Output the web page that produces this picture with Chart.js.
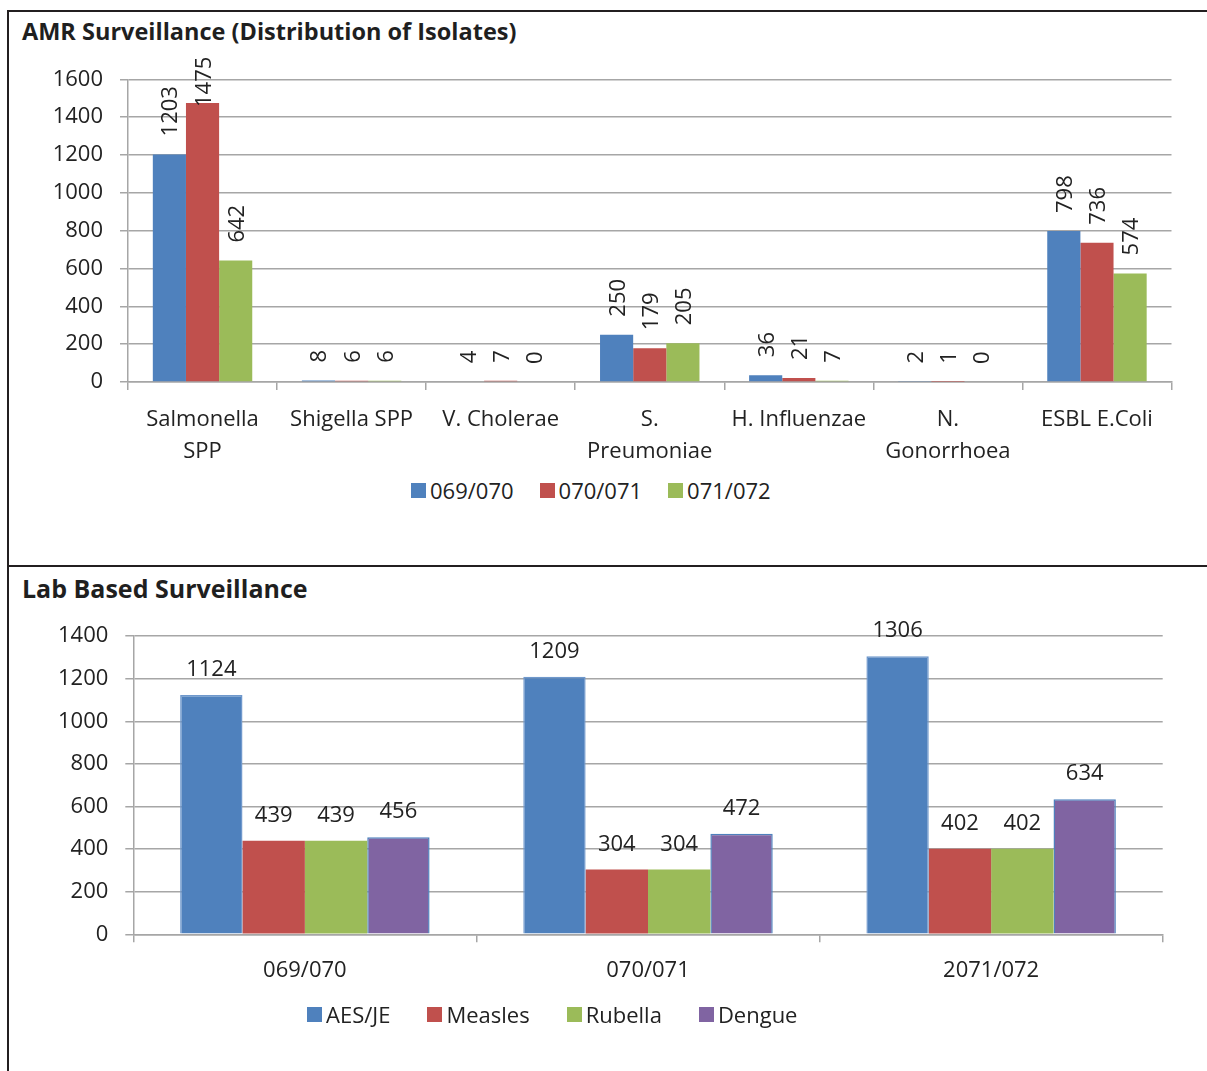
<!DOCTYPE html>
<html>
<head>
<meta charset="utf-8">
<script src="https://cdn.jsdelivr.net/npm/chart.js@4.4.1/dist/chart.umd.min.js"></script>
<style>
  html, body { margin: 0; padding: 0; background: #fff; overflow: hidden; width: 1207px; height: 1071px; }
  .box { position: absolute; left: 7px; width: 1300px; border: 2px solid #231f20; box-sizing: border-box; }
  .title { position: absolute; left: 22px; font-family: "Open Sans", sans-serif; font-weight: bold; color: #1f1f1f; white-space: nowrap; }
  canvas { position: absolute; }
  .legend { position: absolute; display: flex; align-items: center; font: 22px "Open Sans", sans-serif; color: #222; line-height: 22px; white-space: nowrap; }
  .legend span.item { display: flex; align-items: center; }
  .legend i { display: inline-block; width: 15px; height: 15px; margin-right: 4px; }
</style>
</head>
<body>
<div class="box" style="top:10px;height:557px;"></div>
<div class="box" style="top:565px;height:600px;"></div>

<div class="title" style="top:19px;font-size:23.5px;line-height:24px;">AMR Surveillance (Distribution of Isolates)</div>
<canvas id="amr" width="1197" height="458" style="left:10px;top:12px;"></canvas>
<div class="legend" id="amrLegend" style="left:411px;top:479px;gap:26px;"></div>

<div class="title" style="top:576px;font-size:25px;line-height:24px;">Lab Based Surveillance</div>
<canvas id="lab" width="1197" height="394" style="left:10px;top:606px;"></canvas>
<div class="legend" id="labLegend" style="left:307px;top:1003px;gap:37px;"></div>

<script>
// AMR surveillance
const amrCategories = [['Salmonella', 'SPP'], 'Shigella SPP', 'V. Cholerae', ['S.', 'Preumoniae'], 'H. Influenzae', ['N.', 'Gonorrhoea'], 'ESBL E.Coli'];
const amrSeries = ['069/070', '070/071', '071/072'];
const amr069 = [1203, 8, 4, 250, 36, 2, 798];
const amr070 = [1475, 6, 7, 179, 21, 1, 736];
const amr071 = [642, 6, 0, 205, 7, 0, 574];
const amrTicks = [0, 200, 400, 600, 800, 1000, 1200, 1400, 1600];

// Lab based surveillance
const labCategories = ['069/070', '070/071', '2071/072'];
const labSeries = ['AES/JE', 'Measles', 'Rubella', 'Dengue'];
const labAes = [1124, 1209, 1306];
const labMeasles = [439, 304, 402];
const labRubella = [439, 304, 402];
const labDengue = [456, 472, 634];
const labTicks = [0, 200, 400, 600, 800, 1000, 1200, 1400];

const BLUE = '#4f81bd', RED = '#c0504d', GREEN = '#9bbb59', PURPLE = '#8064a2';
const GRID = '#a6a6a6';
const TEXT = '#222';
const FONT = '"Open Sans", sans-serif';

// value labels above each bar, drawn from the bar elements
const valueLabels = {
  id: 'valueLabels',
  afterDatasetsDraw(chart, args, opts) {
    const ctx = chart.ctx;
    const top = chart.chartArea.top - opts.overhang;
    ctx.save();
    ctx.font = '22px ' + FONT;
    ctx.fillStyle = TEXT;
    chart.data.datasets.forEach((ds, i) => {
      chart.getDatasetMeta(i).data.forEach((bar, j) => {
        const text = String(ds.data[j]);
        if (opts.rotate) {
          const w = ctx.measureText(text).width;
          // keep the label inside the plot, as the spreadsheet does
          const start = Math.max(bar.y - opts.gap, top + w);
          ctx.save();
          ctx.translate(bar.x + 8, start);
          ctx.rotate(-Math.PI / 2);
          ctx.textAlign = 'left';
          ctx.textBaseline = 'alphabetic';
          ctx.fillText(text, 0, 0);
          ctx.restore();
        } else {
          ctx.textAlign = 'center';
          ctx.textBaseline = 'alphabetic';
          ctx.fillText(text, bar.x, bar.y - opts.gap);
        }
      });
    });
    ctx.restore();
  }
};

function makeLegend(id, names, colors) {
  const el = document.getElementById(id);
  names.forEach((n, i) => {
    const item = document.createElement('span');
    item.className = 'item';
    item.innerHTML = '<i style="background:' + colors[i] + '"></i>' + n;
    el.appendChild(item);
  });
}

function scales(ticks, yWidth, xHeight, xPad, lineHeight) {
  return {
    x: {
      afterFit: (s) => { s.height = xHeight; },
      grid: { drawOnChartArea: false, tickLength: 8, color: GRID, lineWidth: 1.5 },
      border: { color: GRID, width: 1.5 },
      ticks: { color: TEXT, padding: xPad, maxRotation: 0, autoSkip: false, font: { family: FONT, size: 22, lineHeight: lineHeight } }
    },
    y: {
      min: ticks[0],
      max: ticks[ticks.length - 1],
      afterFit: (s) => { s.width = yWidth; },
      afterBuildTicks: (s) => { s.ticks = ticks.map(v => ({ value: v })); },
      grid: { tickLength: 8, color: GRID, lineWidth: 1.5 },
      border: { color: GRID, width: 1.5 },
      ticks: { color: TEXT, padding: 17, font: { family: FONT, size: 22 }, callback: (v) => String(v) }
    }
  };
}

function draw() {
  new Chart(document.getElementById('amr'), {
    type: 'bar',
    data: {
      labels: amrCategories,
      datasets: [
        { label: amrSeries[0], data: amr069, backgroundColor: BLUE },
        { label: amrSeries[1], data: amr070, backgroundColor: RED },
        { label: amrSeries[2], data: amr071, backgroundColor: GREEN }
      ]
    },
    options: {
      responsive: false,
      animation: false,
      devicePixelRatio: 1,
      categoryPercentage: 0.667,
      barPercentage: 1,
      layout: { padding: { top: 67.3, right: 35.5, left: 0, bottom: 0 } },
      plugins: { legend: { display: false }, tooltip: { enabled: false }, valueLabels: { rotate: true, gap: 18, overhang: 22.6 } },
      scales: scales(amrTicks, 118, 88, 14, 32 / 22)
    },
    plugins: [valueLabels]
  });

  new Chart(document.getElementById('lab'), {
    type: 'bar',
    data: {
      labels: labCategories,
      datasets: [
        { label: labSeries[0], data: labAes, backgroundColor: BLUE, borderColor: '#6f98cc', borderWidth: 1.5 },
        { label: labSeries[1], data: labMeasles, backgroundColor: RED },
        { label: labSeries[2], data: labRubella, backgroundColor: GREEN },
        { label: labSeries[3], data: labDengue, backgroundColor: PURPLE, borderColor: BLUE, borderWidth: 1.5 }
      ]
    },
    options: {
      responsive: false,
      animation: false,
      devicePixelRatio: 1,
      categoryPercentage: 0.727,
      barPercentage: 1,
      layout: { padding: { top: 25, right: 44.3, left: 0, bottom: 0 } },
      plugins: { legend: { display: false }, tooltip: { enabled: false }, valueLabels: { rotate: false, gap: 19, overhang: 0 } },
      scales: scales(labTicks, 123.3, 65.7, 15, 1.2)
    },
    plugins: [valueLabels]
  });

  makeLegend('amrLegend', amrSeries, [BLUE, RED, GREEN]);
  makeLegend('labLegend', labSeries, [BLUE, RED, GREEN, PURPLE]);
}

Promise.all([
  document.fonts.load('22px "Open Sans"'),
  document.fonts.load('bold 24px "Open Sans"')
]).then(draw, draw);
</script>
</body>
</html>
